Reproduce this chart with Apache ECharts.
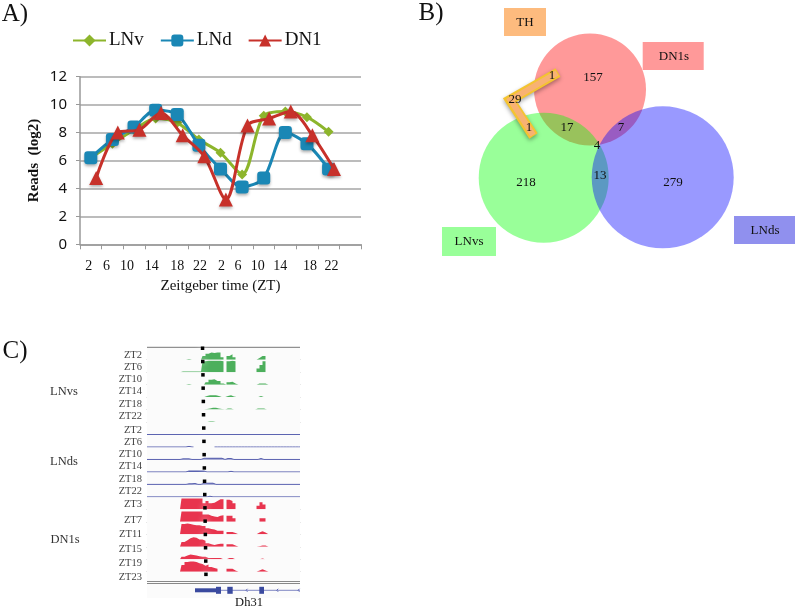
<!DOCTYPE html>
<html>
<head>
<meta charset="utf-8">
<title>Dh31 expression</title>
<style>
  html, body { margin: 0; padding: 0; background: #fff; }
  #main { width: 796px; height: 610px; }
</style>
</head>
<body>
<div id="main"></div>
<script src="https://cdn.jsdelivr.net/npm/echarts@6/dist/echarts.min.js"></script>
<script>
// panel A
const ztLabels = ['2', '6', '10', '14', '18', '22', '2', '6', '10', '14', '18', '22', ''];
const yTicks = [0, 2, 4, 6, 8, 10, 12];
const lnv = [6.2, 7.2, 8.2, 9.0, 8.7, 7.5, 6.55, 5.0, 9.2, 9.5, 9.1, 8.05];
const lnd = [6.2, 7.5, 8.4, 9.6, 9.3, 7.1, 5.4, 4.1, 4.75, 8.0, 7.2, 5.4];
const dn1 = [4.75, 8.0, 8.2, 9.4, 7.8, 6.3, 3.2, 8.5, 9.0, 9.5, 7.8, 5.4];

// panel B
const vennSets = ['TH', 'DN1s', 'LNvs', 'LNds'];
const vennCounts = [157, 1, 29, 1, 17, 7, 4, 13, 218, 279];

// panel C, each track is [bin, height] pairs, everything else is 0
const lnvZT2 = [[14,.05],[19,.3],[20,.5],[21,.6],[22,.55],[23,.6],[24,.6],[25,.2],[27,.3],[28,.45],[29,.2],[37,.15],[38,.3],[39,.3]];
const lnvZT6 = [[12,.05],[13,.05],[14,.05],[15,.05],[16,.05],[17,.05],[18,.05],[19,.9],[20,.95],[21,.95],[22,.95],[23,.95],[24,.95],[25,.9],[27,.9],[28,.95],[29,.9],[37,.3],[38,.6],[39,.9]];
const lnvZT10 = [[14,.05],[20,.2],[21,.4],[22,.45],[23,.3],[24,.3],[25,.1],[27,.2],[28,.25],[29,.1],[37,.1],[38,.1],[39,.1]];
const lnvZT14 = [[20,.1],[21,.15],[22,.15],[23,.15],[24,.1],[27,.1],[28,.15],[29,.05],[38,.1]];
const lnvZT18 = [[20,.05],[21,.1],[22,.15],[23,.15],[24,.1],[25,.05],[27,.1],[28,.1],[37,.1],[38,.1],[39,.1]];
const lnvZT22 = [[21,.05],[22,.05]];
const lndZT2 = [];
const lndZT6 = [[14,.05],[16,null],[17,null],[18,null],[19,null],[20,null],[21,null],[22,null]];
const lndZT10 = [[12,.05],[13,.05],[14,.05],[19,.1],[20,.1],[21,.1],[22,.1],[23,.1],[24,.1],[25,.1],[27,.08],[28,.08],[38,.08]];
const lndZT14 = [[14,.08],[15,.08],[16,.08],[17,.08],[18,.08],[19,.08],[28,.05]];
const lndZT18 = [[14,.05],[15,.05],[16,.08],[19,.1],[20,.1],[21,.1],[22,.1]];
const lndZT22 = [[21,.05]];
const dnZT3 = [[12,.9],[13,.9],[14,.9],[15,.9],[16,.9],[17,.9],[18,.9],[19,.5],[20,.7],[21,.5],[22,.55],[23,.7],[24,.85],[25,.85],[27,.8],[28,.7],[29,.5],[37,.3],[38,.6],[39,.4]];
const dnZT7 = [[12,.85],[13,.85],[14,.85],[15,.85],[16,.85],[17,.85],[18,.85],[19,.6],[20,.6],[21,.5],[22,.45],[23,.4],[24,.5],[25,.55],[27,.5],[28,.5],[29,.3],[38,.3],[39,.3]];
const dnZT11 = [[12,.85],[13,.9],[14,.85],[15,.8],[16,.75],[17,.75],[18,.7],[19,.7],[20,.5],[21,.45],[22,.4],[23,.3],[24,.3],[25,.3],[27,.2],[28,.2],[29,.1],[37,.15],[38,.25],[39,.15]];
const dnZT15 = [[12,.4],[13,.55],[14,.7],[15,.8],[16,.75],[17,.6],[18,.6],[19,.5],[20,.3],[21,.2],[22,.15],[23,.2],[24,.25],[25,.25],[27,.2],[28,.2],[29,.1],[37,.05],[38,.1],[39,.1]];
const dnZT19 = [[12,.2],[13,.3],[14,.4],[15,.35],[16,.3],[17,.25],[18,.2],[19,.2],[20,.1],[21,.1],[22,.1],[23,.1],[24,.1],[27,.1],[28,.1],[38,.05]];
const dnZT23 = [[12,.55],[13,.8],[14,.85],[15,.85],[16,.8],[17,.7],[18,.65],[19,.5],[20,.6],[21,.4],[22,.3],[23,.25],[27,.25],[28,.25],[29,.1],[37,.1],[38,.2],[39,.1]];

const trackNames = ['ZT2', 'ZT6', 'ZT10', 'ZT14', 'ZT18', 'ZT22', 'ZT2', 'ZT6', 'ZT10', 'ZT14', 'ZT18', 'ZT22', 'ZT3', 'ZT7', 'ZT11', 'ZT15', 'ZT19', 'ZT23'];
const trackData = [lnvZT2, lnvZT6, lnvZT10, lnvZT14, lnvZT18, lnvZT22, lndZT2, lndZT6, lndZT10, lndZT14, lndZT18, lndZT22, dnZT3, dnZT7, dnZT11, dnZT15, dnZT19, dnZT23];
const groupNames = ['LNvs', 'LNds', 'DN1s'];

const serif = '"Liberation Serif", "Times New Roman", serif';
const binCount = 52;
const binNames = Array.from({ length: binCount }, (_, i) => String(i));

function expand(pairs) {
  const out = new Array(binCount).fill(0);
  pairs.forEach(p => { out[p[0]] = p[1]; });
  return out;
}

function txt(text, x, y, size, extra) {
  return {
    type: 'text',
    z: 20,
    style: Object.assign({
      text: text, x: x, y: y, fill: '#111',
      font: size + 'px ' + serif,
      textAlign: 'center', textVerticalAlign: 'middle'
    }, extra || {})
  };
}

function box(x, y, w, h, color) {
  return { type: 'rect', z: 5, shape: { x: x, y: y, width: w, height: h }, style: { fill: color } };
}

function circle(cx, cy, r, color) {
  return { type: 'circle', z: 6, shape: { cx: cx, cy: cy, r: r }, style: { fill: color } };
}

const myChart = echarts.init(document.getElementById('main'));

// the tick labels in the figure are hand placed, nudge them off the category centres
const labelShift = [-2, -6, -7, -4, 0, 1, 1, -4, -6, -5, 3, 3, 0];
const labelRich = {};
labelShift.forEach((d, i) => {
  labelRich['s' + i] = {
    color: '#111', fontFamily: serif, fontSize: 14,
    padding: d < 0 ? [0, -2 * d, 0, 0] : [0, 0, 0, 2 * d]
  };
});

// ---- panel A axes and series ----
const grids = [{ left: 80, top: 76.7, width: 281, height: 167.6 }];
const xAxes = [
  {
    type: 'category', gridIndex: 0, data: ztLabels,
    axisLine: { lineStyle: { color: '#999', width: 1.5 } },
    axisTick: { show: true, length: 5, lineStyle: { color: '#999' } },
    axisLabel: {
      interval: 0, margin: 15, color: '#111', fontFamily: serif, fontSize: 14,
      formatter: (v, i) => '{s' + i + '|' + v + '}', rich: labelRich
    },
    name: 'Zeitgeber time (ZT)', nameLocation: 'middle', nameGap: 34,
    nameTextStyle: { color: '#111', fontFamily: serif, fontSize: 15 }
  },
  // DN1 points sit a quarter step right of the category centres
  { type: 'value', gridIndex: 0, min: 0, max: ztLabels.length, show: false }
];
const yAxes = [{
  type: 'value', gridIndex: 0, min: yTicks[0], max: yTicks[yTicks.length - 1], interval: 2,
  axisLine: { show: true, lineStyle: { color: '#999', width: 1.5 } },
  axisTick: { show: true, length: 4, lineStyle: { color: '#999' } },
  splitLine: { lineStyle: { color: '#a6a6a6', width: 1.5 } },
  axisLabel: { margin: 13, color: '#111', fontFamily: '"Noto Sans"', fontSize: 15 },
  name: 'Reads  (log2)', nameLocation: 'middle', nameGap: 38, nameRotate: 90,
  nameTextStyle: { color: '#111', fontFamily: serif, fontSize: 15, fontWeight: 'bold' }
}];
const shadow = { shadowColor: 'rgba(0,0,0,0.3)', shadowBlur: 3, shadowOffsetY: 2 };
const series = [
  {
    name: 'LNv', type: 'line', data: lnv, smooth: 0.3, symbol: 'diamond', symbolSize: 10, z: 3,
    lineStyle: { color: '#8db52c', width: 3 }, itemStyle: { color: '#8db52c' }
  },
  {
    name: 'LNd', type: 'line', data: lnd, smooth: 0.3, symbol: 'roundRect', symbolSize: 13, z: 4,
    lineStyle: { color: '#1a87b5', width: 3 }, itemStyle: Object.assign({ color: '#1a87b5' }, shadow)
  },
  {
    name: 'DN1', type: 'line', xAxisIndex: 1, data: dn1.map((v, i) => [i + 0.75, v]), smooth: 0.3,
    symbol: 'triangle', symbolSize: 14, z: 5,
    lineStyle: { color: '#c7312a', width: 3 }, itemStyle: Object.assign({ color: '#c7312a' }, shadow)
  }
];

// ---- panel C tracks ----
const trackColors = ['#4caf5c', '#5a62b0', '#e8344e'];
const trackLabelY = [355, 367.3, 379.3, 391.7, 404, 416.3, 430.3, 442.7, 454, 466, 479, 491.7, 504.7, 520, 534.3, 549, 563.3, 577.7];
const graphicTracks = [];
trackData.forEach((pairs, i) => {
  const group = Math.floor(i / 6);
  const baseY = 359.7 + i * 12.47;
  const idx = i + 1;
  grids.push({ left: 147, top: baseY - 12, width: 153, height: 12 });
  xAxes.push({
    type: 'category', gridIndex: idx, data: binNames, boundaryGap: false,
    axisLabel: { show: false }, axisTick: { show: false }, splitLine: { show: false },
    axisLine: { show: group !== 1, lineStyle: { color: '#c4c4c4', width: 1 } }
  });
  yAxes.push({ type: 'value', gridIndex: idx, min: 0, max: 1, show: false });
  series.push({
    type: 'line', xAxisIndex: idx + 1, yAxisIndex: idx, data: expand(pairs),
    step: 'middle', symbol: 'none', silent: true, z: 6,
    lineStyle: { color: trackColors[group], width: group === 1 ? 1 : 0 },
    areaStyle: { color: trackColors[group], opacity: 1 }
  });
  graphicTracks.push(txt(trackNames[i], 142, trackLabelY[i], 10.5, { textAlign: 'right', fill: '#444' }));
  // black dotted guide over the tracks
  graphicTracks.push({
    type: 'rect', z: 15,
    shape: { x: 200.8 + i * 0.2, y: 346.5 + i * 13.3, width: 3.5, height: 3.5 },
    style: { fill: '#000', shadowColor: '#fff', shadowBlur: 6 }
  });
});

// small direction marks on the gene model
[246, 276.7, 298].forEach(x => {
  graphicTracks.push({
    type: 'polyline', z: 8,
    shape: { points: [[x + 1.5, 588.8], [x, 590.3], [x + 1.5, 591.8]] },
    style: { fill: null, stroke: '#6068b8', lineWidth: 1 }
  });
});

const graphicItems = [
  txt('A)', 15, 14, 25),
  txt('B)', 431, 13, 25),
  txt('C)', 15, 351, 25),

  // Venn
  box(504, 8, 42, 28, '#fdbb7e'),
  box(642.7, 42, 61, 28, '#ff9999'),
  box(442, 227, 54, 29, '#99ff99'),
  box(734, 216, 61, 28, '#9090ee'),
  txt(vennSets[0], 525, 23, 13),
  txt(vennSets[1], 674, 57, 13),
  txt(vennSets[2], 469, 242, 13),
  txt(vennSets[3], 765, 231, 13),
  circle(590, 89.5, 56, 'rgba(255,0,0,0.4)'),
  circle(543.7, 177.7, 65, 'rgba(0,255,0,0.4)'),
  circle(662.7, 177.3, 71, 'rgba(0,0,255,0.4)'),
  {
    type: 'polyline', z: 8,
    shape: { points: [[558, 72.5], [510, 100], [533.5, 136]] },
    style: { fill: null, stroke: '#f4c430', lineWidth: 10, lineJoin: 'miter', shadowColor: 'rgba(0,0,0,0.35)', shadowBlur: 4, shadowOffsetY: 2 }
  },
  {
    type: 'polyline', z: 9,
    shape: { points: [[557, 73], [510.5, 100], [533, 135]] },
    style: { fill: null, stroke: '#f8b273', lineWidth: 6, lineJoin: 'miter' }
  },
  txt(String(vennCounts[0]), 593, 78, 13),
  txt(String(vennCounts[1]), 552, 76, 13),
  txt(String(vennCounts[2]), 515, 100, 13),
  txt(String(vennCounts[3]), 529, 128, 13),
  txt(String(vennCounts[4]), 567, 128, 13),
  txt(String(vennCounts[5]), 621, 128, 13),
  txt(String(vennCounts[6]), 597, 146, 13),
  txt(String(vennCounts[7]), 600, 176, 13),
  txt(String(vennCounts[8]), 526, 183, 13),
  txt(String(vennCounts[9]), 673, 183, 13),

  // browser frame
  box(147, 347, 153, 251, '#fbfbfb'),
  { type: 'line', z: 7, shape: { x1: 147, y1: 347.3, x2: 300, y2: 347.3 }, style: { stroke: '#777', lineWidth: 1 } },
  { type: 'line', z: 7, shape: { x1: 147, y1: 581.5, x2: 300, y2: 581.5 }, style: { stroke: '#888', lineWidth: 1 } },
  { type: 'line', z: 7, shape: { x1: 147, y1: 583.5, x2: 300, y2: 583.5 }, style: { stroke: '#888', lineWidth: 1 } },
  txt(groupNames[0], 64, 391.7, 12.5, { fill: '#333' }),
  txt(groupNames[1], 64, 461.7, 12.5, { fill: '#333' }),
  txt(groupNames[2], 65, 540, 12.5, { fill: '#333' }),

  // gene model
  { type: 'line', z: 7, shape: { x1: 195, y1: 590.3, x2: 300, y2: 590.3 }, style: { stroke: '#8088c4', lineWidth: 1 } },
  { type: 'rect', z: 7, shape: { x: 195, y: 588.3, width: 21, height: 4 }, style: { fill: '#3a4a9f' } },
  { type: 'rect', z: 7, shape: { x: 216, y: 586.8, width: 5, height: 7 }, style: { fill: '#3a4a9f' } },
  { type: 'rect', z: 7, shape: { x: 227.3, y: 586.8, width: 5.4, height: 7 }, style: { fill: '#3a4a9f' } },
  { type: 'rect', z: 7, shape: { x: 259.3, y: 586.8, width: 4.7, height: 7 }, style: { fill: '#3a4a9f' } },
  txt('Dh31', 249, 603, 12.5)
].concat(graphicTracks);

myChart.setOption({
  animation: false,
  backgroundColor: '#fff',
  legend: {
    data: ['LNv', 'LNd', 'DN1'],
    left: 67, top: 26, itemWidth: 33, itemHeight: 15, itemGap: 16,
    textStyle: { color: '#111', fontFamily: serif, fontSize: 19, padding: [0, 0, 0, -2] }
  },
  grid: grids,
  xAxis: xAxes,
  yAxis: yAxes,
  series: series,
  graphic: graphicItems
});
</script>
</body>
</html>
